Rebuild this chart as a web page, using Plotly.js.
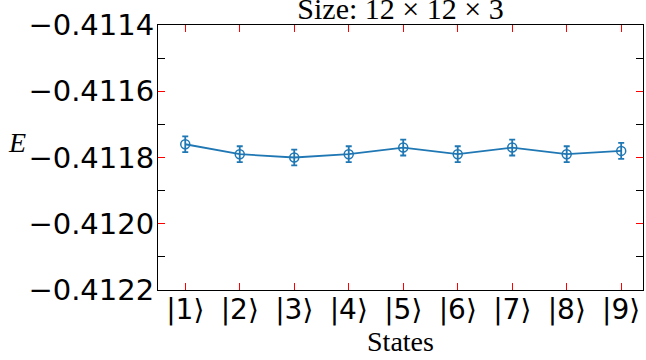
<!DOCTYPE html>
<html><head><meta charset="utf-8">
<script src="https://cdn.plot.ly/plotly-3.0.1.min.js"></script>
<style>body{margin:0;background:#fff}#chart{width:646px;height:360px}</style>
</head><body><div id="chart"></div>
<script>
const states = [1,2,3,4,5,6,7,8,9];
const stateLabels = ['|1⟩','|2⟩','|3⟩','|4⟩','|5⟩','|6⟩','|7⟩','|8⟩','|9⟩'];
const energies = [-0.41176,-0.41179,-0.41180,-0.41179,-0.41177,-0.41179,-0.41177,-0.41179,-0.41178];
const errors = [0.000024,0.000024,0.000024,0.000024,0.000024,0.000024,0.000024,0.000024,0.000024];
const yTicks = [-0.4114,-0.4116,-0.4118,-0.4120,-0.4122];

const blue = '#1f77b4';
const trace = {
  x: states, y: energies, type: 'scatter', mode: 'lines+markers',
  line: {color: blue, width: 1.8},
  marker: {symbol: 'circle-open', size: 9, color: blue, line: {width: 1.5, color: blue}},
  error_y: {type: 'data', array: errors, visible: true, color: blue, thickness: 1.8, width: 3}
};
const serif = 'Liberation Serif, Times New Roman, serif';
const sans = 'DejaVu Sans, sans-serif';
const layout = {
  width: 646, height: 360,
  margin: {l: 158, r: 3, t: 25, b: 70},
  paper_bgcolor: '#fff', plot_bgcolor: '#fff',
  showlegend: false,
  title: {text: 'Size: 12 × 12 × 3', font: {family: serif, size: 30, color: '#000'},
          x: 0.5, xref: 'paper', y: 1, yref: 'paper', yanchor: 'bottom', pad: {b: 6}},
  xaxis: {
    range: [0.5, 9.4], tickmode: 'array', tickvals: states, ticktext: stateLabels,
    ticks: 'inside', ticklen: 7, tickcolor: 'red', tickwidth: 1,
    showline: true, linecolor: '#000', linewidth: 1, mirror: 'allticks',
    showgrid: false, zeroline: false, ticklabelstandoff: -6,
    tickfont: {family: sans, size: 28, color: '#000'},
    title: {text: 'States', font: {family: serif, size: 28, color: '#000'}, standoff: 0}
  },
  yaxis: {
    range: [-0.4122, -0.4114], tickmode: 'array', tickvals: yTicks, tickformat: '.4f',
    ticks: 'inside', ticklen: 7, tickcolor: 'red', tickwidth: 1,
    minor: {dtick: 0.0001, ticks: 'inside', ticklen: 7, tickcolor: '#000', tickwidth: 1, showgrid: false},
    showline: true, linecolor: '#000', linewidth: 1, mirror: 'allticks',
    showgrid: false, zeroline: false, ticklabelstandoff: -3,
    tickfont: {family: sans, size: 29, color: '#000'}
  },
  annotations: [{text: 'E', xref: 'paper', yref: 'paper', x: -0.29, y: 0.555, xanchor: 'center', yanchor: 'middle',
    showarrow: false, font: {family: serif, size: 28, color: '#000', style: 'italic'}}]
};
Plotly.newPlot('chart', [trace], layout, {displayModeBar: false, staticPlot: true});
</script></body></html>
